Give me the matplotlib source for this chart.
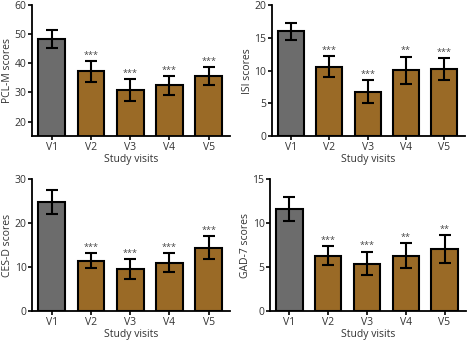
import numpy as np
import matplotlib
matplotlib.use("Agg")
import matplotlib.pyplot as plt

plt.rcParams['font.family'] = ['Open Sans', 'DejaVu Sans']

visits = ['V1', 'V2', 'V3', 'V4', 'V5']

pcl_mean = [48.4, 37.3, 30.9, 32.5, 35.6]
pcl_err = [3.0, 3.6, 3.7, 3.2, 3.1]
pcl_sig = ['', '***', '***', '***', '***']

isi_mean = [16.0, 10.6, 6.8, 10.05, 10.2]
isi_err = [1.3, 1.6, 1.8, 2.1, 1.7]
isi_sig = ['', '***', '***', '**', '***']

cesd_mean = [24.7, 11.4, 9.5, 11.0, 14.35]
cesd_err = [2.7, 1.7, 2.25, 2.2, 2.6]
cesd_sig = ['', '***', '***', '***', '***']

gad_mean = [11.6, 6.3, 5.4, 6.3, 7.06]
gad_err = [1.35, 1.1, 1.35, 1.4, 1.55]
gad_sig = ['', '***', '***', '**', '**']

GRAY = '#6c6c6c'
BROWN = '#9a6a26'

panels = [
    # rect, means, errs, sig, ylabel, ylim, yticks
    ([0.068, 0.603, 0.42, 0.382], pcl_mean, pcl_err, pcl_sig, 'PCL-M scores', (15, 60), [20, 30, 40, 50, 60]),
    ([0.576, 0.603, 0.41, 0.382], isi_mean, isi_err, isi_sig, 'ISI scores', (0, 20), [0, 5, 10, 15, 20]),
    ([0.068, 0.093, 0.42, 0.385], cesd_mean, cesd_err, cesd_sig, 'CES-D scores', (0, 30), [0, 10, 20, 30]),
    ([0.572, 0.093, 0.415, 0.385], gad_mean, gad_err, gad_sig, 'GAD-7 scores', (0, 15), [0, 5, 10, 15]),
]

fig = plt.figure(figsize=(4.72, 3.43), dpi=100)

for rect, means, errs, sig, ylabel, ylim, yticks in panels:
    ax = fig.add_axes(rect)
    x = np.arange(len(visits))
    colors = [GRAY] + [BROWN] * (len(visits) - 1)
    ax.bar(x, means, width=0.68, color=colors, edgecolor='black', linewidth=1.5,
           yerr=errs, capsize=4.5, error_kw=dict(elinewidth=1.5, capthick=1.5, ecolor='black'),
           zorder=2)
    span = ylim[1] - ylim[0]
    for xi, m, e, s in zip(x, means, errs, sig):
        if s:
            ax.text(xi, m + e + span * 0.01, s, ha='center', va='bottom',
                    fontsize=6.5, color='#444444')
    ax.set_xlim(-0.5, 4.55)
    ax.set_ylim(*ylim)
    ax.set_yticks(yticks)
    ax.set_xticks(x)
    ax.set_xticklabels(visits)
    ax.set_ylabel(ylabel, fontsize=7.5, color='#333333', labelpad=1)
    ax.set_xlabel('Study visits', fontsize=7.5, color='#333333', labelpad=1)
    for side in ['top', 'right']:
        ax.spines[side].set_visible(False)
    for side in ['left', 'bottom']:
        ax.spines[side].set_linewidth(1.3)
    ax.tick_params(axis='both', labelsize=7.5, labelcolor='#333333', color='black',
                   width=1.2, length=3, pad=1)

fig.savefig('out.png', dpi=100)
